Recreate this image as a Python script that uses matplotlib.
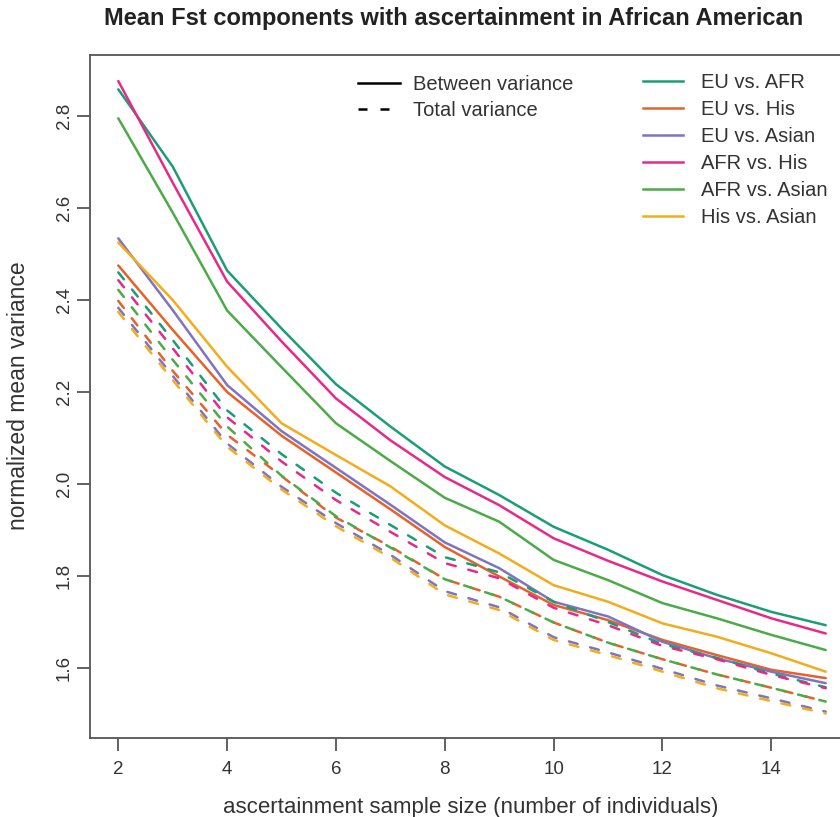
import numpy as np
import matplotlib
matplotlib.use("Agg")
from matplotlib import pyplot as plt
from matplotlib.lines import Line2D

plt.rcParams["font.family"] = ["Liberation Sans", "DejaVu Sans"]

# ascertainment sample size
n = [2, 3, 4, 5, 6, 7, 8, 9, 10, 11, 12, 13, 14, 15]

pairs = ["EU vs. AFR", "EU vs. His", "EU vs. Asian",
         "AFR vs. His", "AFR vs. Asian", "His vs. Asian"]
colors = ["#1B9E77", "#E5622A", "#7E74C0", "#E7298A", "#4DAA48", "#F2AC1C"]

# between variance (solid)
between_eu_afr = [2.858, 2.690, 2.464, 2.338, 2.217, 2.125, 2.038, 1.976, 1.907, 1.857, 1.802, 1.759, 1.722, 1.693]
between_eu_his = [2.475, 2.335, 2.200, 2.105, 2.025, 1.945, 1.863, 1.799, 1.737, 1.704, 1.661, 1.628, 1.596, 1.578]
between_eu_asian = [2.534, 2.378, 2.215, 2.115, 2.035, 1.955, 1.873, 1.817, 1.744, 1.712, 1.657, 1.621, 1.592, 1.567]
between_afr_his = [2.876, 2.655, 2.440, 2.310, 2.186, 2.095, 2.015, 1.954, 1.882, 1.833, 1.788, 1.748, 1.708, 1.675]
between_afr_asian = [2.795, 2.590, 2.377, 2.254, 2.132, 2.050, 1.970, 1.918, 1.835, 1.791, 1.741, 1.708, 1.672, 1.639]
between_his_asian = [2.525, 2.400, 2.255, 2.132, 2.063, 1.995, 1.910, 1.849, 1.780, 1.744, 1.697, 1.668, 1.632, 1.592]

# total variance (dashed)
total_eu_afr = [2.460, 2.313, 2.160, 2.065, 1.981, 1.911, 1.841, 1.808, 1.744, 1.700, 1.652, 1.622, 1.588, 1.558]
total_eu_his = [2.398, 2.246, 2.107, 2.017, 1.927, 1.864, 1.793, 1.755, 1.699, 1.655, 1.619, 1.586, 1.557, 1.527]
total_eu_asian = [2.383, 2.235, 2.088, 1.994, 1.915, 1.846, 1.767, 1.732, 1.667, 1.634, 1.598, 1.562, 1.534, 1.505]
total_afr_his = [2.443, 2.295, 2.145, 2.049, 1.965, 1.896, 1.828, 1.795, 1.731, 1.693, 1.648, 1.619, 1.585, 1.556]
total_afr_asian = [2.422, 2.270, 2.125, 2.018, 1.930, 1.862, 1.793, 1.755, 1.699, 1.655, 1.619, 1.586, 1.557, 1.527]
total_his_asian = [2.374, 2.226, 2.081, 1.988, 1.908, 1.840, 1.760, 1.726, 1.661, 1.628, 1.592, 1.556, 1.528, 1.501]

between = [between_eu_afr, between_eu_his, between_eu_asian,
           between_afr_his, between_afr_asian, between_his_asian]
total = [total_eu_afr, total_eu_his, total_eu_asian,
         total_afr_his, total_afr_asian, total_his_asian]

W, H = 840, 817
fig = plt.figure(figsize=(W / 100, H / 100), dpi=100)
# plot region in pixels: left 90, top 55, bottom 738, right runs off the image
ax = fig.add_axes([90 / W, 1 - 738 / H, (854 - 90) / W, (738 - 55) / H])

lw = 1.8
dash = (0, (3.6, 5.2))
for c, b in zip(colors, between):
    ax.plot(n, b, color=c, lw=lw, solid_capstyle="round")
for c, t in zip(colors, total):
    ax.plot(n, t, color=c, lw=lw, linestyle=dash, dash_capstyle="round")

ax.set_xlim(1.48, 15.52)
ax.set_ylim(1.4478, 2.9326)
ax.set_xticks([2, 4, 6, 8, 10, 12, 14])
ax.set_yticks([1.6, 1.8, 2.0, 2.2, 2.4, 2.6, 2.8])
ax.set_yticklabels(["1.6", "1.8", "2.0", "2.2", "2.4", "2.6", "2.8"], rotation=90, va="center")

axis_col = "#555555"
txt_col = "#333333"
for s in ax.spines.values():
    s.set_color(axis_col)
    s.set_linewidth(1.3)
ax.tick_params(axis="both", which="both", direction="out", length=9.5, width=1.3,
               color=axis_col, labelcolor=txt_col, labelsize=13.5)
ax.tick_params(axis="x", pad=7)
ax.tick_params(axis="y", pad=3)

fig.text(454 / W, 1 - 19 / H, "Mean Fst components with ascertainment in African American",
         ha="center", va="center", fontsize=17, fontweight="bold", color="#222222")
fig.text(471 / W, 1 - 807 / H, "ascertainment sample size (number of individuals)",
         ha="center", va="center", fontsize=16, color=txt_col)
fig.text(19 / W, 1 - 396 / H, "normalized mean variance", rotation=90,
         ha="center", va="center", fontsize=16.5, color=txt_col)

fs = 14.5
style_handles = [Line2D([], [], color="black", lw=lw),
                 Line2D([], [], color="black", lw=lw, linestyle=dash)]
leg1 = ax.legend(style_handles, ["Between variance", "Total variance"],
                 loc="upper left", bbox_to_anchor=(358 / W, 1 - 75 / H),
                 bbox_transform=fig.transFigure, frameon=False, fontsize=fs,
                 handlelength=2.09, handletextpad=0.65, labelspacing=0.37,
                 borderpad=0, borderaxespad=0, labelcolor=txt_col)
ax.add_artist(leg1)
pair_handles = [Line2D([], [], color=c, lw=lw) for c in colors]
ax.legend(pair_handles, pairs, loc="upper left", bbox_to_anchor=(643 / W, 1 - 73 / H),
          bbox_transform=fig.transFigure, frameon=False, fontsize=fs,
          handlelength=2.0, handletextpad=0.9, labelspacing=0.4,
          borderpad=0, borderaxespad=0, labelcolor=txt_col)

fig.savefig("out.png", dpi=100)
